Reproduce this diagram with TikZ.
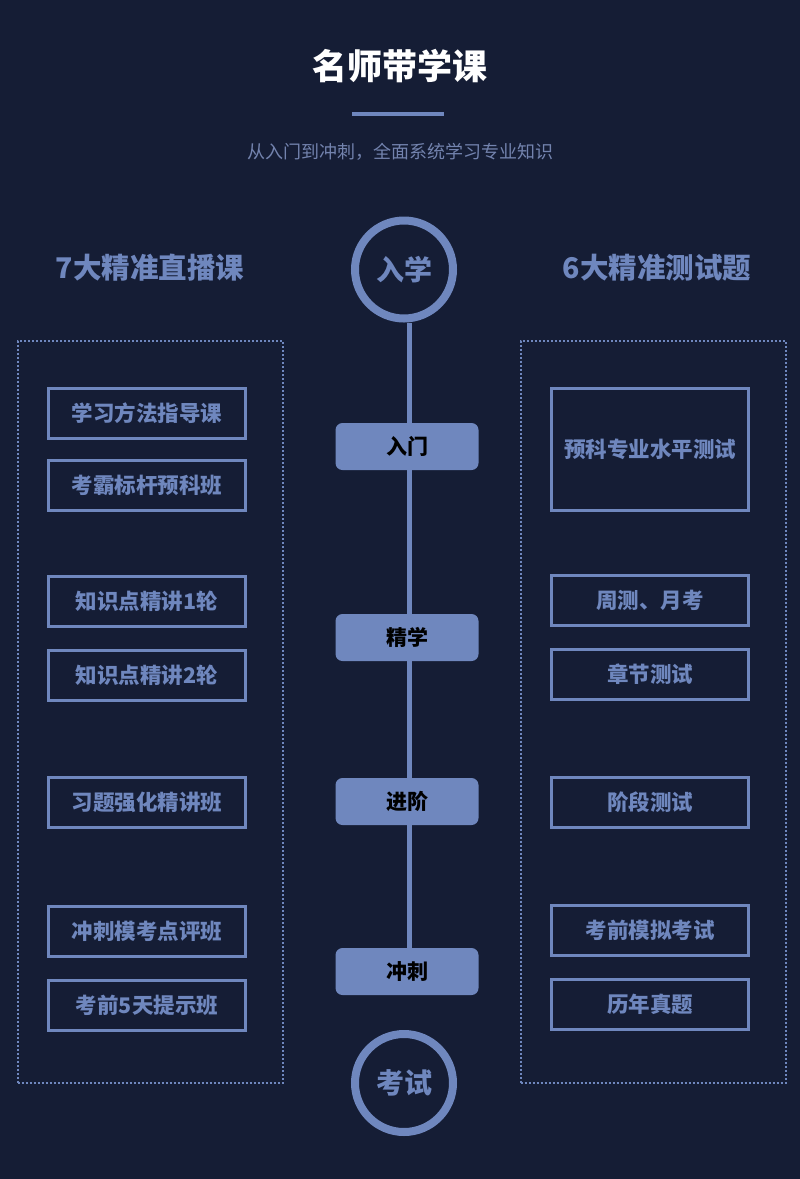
\documentclass[tikz,border=0pt]{standalone}
\usepackage{fontspec}
\setmainfont{Noto Sans CJK SC}
\definecolor{bg}{HTML}{151D35}
\definecolor{acc}{HTML}{6F87BE}
\definecolor{subtxt}{HTML}{7383AE}
\tikzset{
  course/.style={draw=acc,line width=3pt,minimum width=197pt,minimum height=50pt,inner sep=0pt,text=acc,font=\fontsize{21.5}{24}\selectfont\bfseries},
  stage/.style={fill=acc,rounded corners=7pt,minimum width=143pt,minimum height=47pt,inner sep=0pt,text=black,font=\fontsize{21}{24}\selectfont\bfseries},
  ring/.style={shape=circle,draw=acc,line width=8pt,minimum size=98pt,inner sep=0pt,text=acc,font=\fontsize{28}{32}\selectfont\bfseries},
  group/.style={draw=acc,line width=2pt,dash pattern=on 2pt off 2pt,minimum width=265pt,minimum height=742pt,inner sep=0pt},
  heading/.style={text=acc,font=\fontsize{28.5}{32}\selectfont\bfseries},
  spine/.style={draw=acc,line width=5pt}
}
\begin{document}
\begin{tikzpicture}[x=1pt,y=-1pt]
\fill[bg] (0,0) rectangle (800,1179);
\useasboundingbox (0,0) rectangle (800,1179);
\node[text=white,font=\fontsize{35}{40}\selectfont\bfseries] (title) at (400,66) {名师带学课};
\draw[acc,line width=4pt] (352,114) -- (444,114);
\node[text=subtxt,font=\fontsize{18}{22}\selectfont] (subtitle) at (400,152) {从入门到冲刺，全面系统学习专业知识};
\node[heading] (lhead) at (150,268) {7大精准直播课};
\node[heading] (rhead) at (657,268) {6大精准测试题};
\node[group] (lgroup) at (150,711.5) {};
\node[group] (rgroup) at (653,711.5) {};
\node[ring] (start) at (404,269.5) {入学};
\node[ring] (finish) at (404,1083) {考试};
\node[stage] (rumen) at (407,446.5) {入门};
\node[stage] (jingxue) at (407,637.5) {精学};
\node[stage] (jinjie) at (407,801.5) {进阶};
\node[stage] (chongci) at (407,971.5) {冲刺};
\draw[spine] ([xshift=5pt]start.south) -- ([xshift=2pt]rumen.north);
\draw[spine] ([xshift=2pt]rumen.south) -- ([xshift=2pt]jingxue.north);
\draw[spine] ([xshift=2pt]jingxue.south) -- ([xshift=2pt]jinjie.north);
\draw[spine] ([xshift=2pt]jinjie.south) -- ([xshift=2pt]chongci.north);
\node[course] (l1) at (147,413.5) {学习方法指导课};
\node[course] (l2) at (147,485.5) {考霸标杆预科班};
\node[course] (l3) at (147,601.5) {知识点精讲1轮};
\node[course] (l4) at (147,675.5) {知识点精讲2轮};
\node[course] (l5) at (147,802.5) {习题强化精讲班};
\node[course] (l6) at (147,931.5) {冲刺模考点评班};
\node[course] (l7) at (147,1005.5) {考前5天提示班};
\node[course,minimum height=122pt] (r1) at (650,449.5) {预科专业水平测试};
\node[course] (r2) at (650,600.5) {周测、月考};
\node[course] (r3) at (650,674.5) {章节测试};
\node[course] (r4) at (650,802.5) {阶段测试};
\node[course] (r5) at (650,930.5) {考前模拟考试};
\node[course] (r6) at (650,1004.5) {历年真题};
\end{tikzpicture}
\end{document}
